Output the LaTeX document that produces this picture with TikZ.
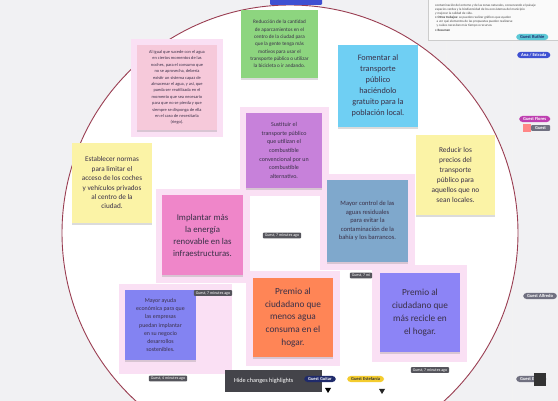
\documentclass[tikz,border=0pt]{standalone}
\usepackage{fontspec}
\setmainfont{Carlito}
\usetikzlibrary{shadows}
\definecolor{bgc}{HTML}{F1F1F3}
\definecolor{circ}{HTML}{9A3E52}
\definecolor{hlpink}{HTML}{FAE0F4}
\definecolor{cpink}{HTML}{F6C9DA}
\definecolor{cgreen}{HTML}{8DD57F}
\definecolor{cblue}{HTML}{6FCFF3}
\definecolor{cyellow}{HTML}{FBF3A6}
\definecolor{corchid}{HTML}{C781DA}
\definecolor{chot}{HTML}{EF86C9}
\definecolor{csteel}{HTML}{7FA8CC}
\definecolor{cviolet}{HTML}{8383F2}
\definecolor{corange}{HTML}{FF8556}
\definecolor{cperi}{HTML}{8C84F6}
\definecolor{notetext}{HTML}{3A3048}
\definecolor{tagbg}{HTML}{55555C}
\definecolor{barblue}{HTML}{3E50D2}
\definecolor{navy}{HTML}{1F2A6B}
\definecolor{pyellow}{HTML}{F4CC2E}
\definecolor{pcyan}{HTML}{5CC8D6}
\definecolor{pmag}{HTML}{BE3FB0}
\definecolor{pgrey}{HTML}{707080}
\begin{document}
\begin{tikzpicture}[x=1pt,y=-1pt,
  note/.style={rectangle, inner sep=2pt, align=center, text=notetext,
    drop shadow={opacity=0.28, shadow xshift=0pt, shadow yshift=-2.5pt}},
  hl/.style={fill=hlpink, draw=none},
  tag/.style={rounded corners=1pt, fill=tagbg, text=white, inner xsep=2pt, inner ysep=1.2pt, font=\fontsize{4}{4}\selectfont},
  pill/.style={rounded corners=3.5pt, text=white, inner ysep=1.5pt, inner xsep=4pt, font=\bfseries\fontsize{4.5}{5}\selectfont}]
\path[use as bounding box] (0,0) rectangle (558,401);
\fill[bgc] (0,0) rectangle (558,401);
\foreach \xx in {446,512} \draw[white!90!gray, line width=0.4pt] (\xx,40) -- (\xx,401);
% big circle
\draw[circ, fill=white, line width=0.9pt] (290,233) circle [radius=228pt];
% highlights
\fill[hl] (131,39) rectangle (223,137);
\fill[hl] (240,107) rectangle (329,196);
\fill[hl] (156,189) rectangle (250,283);
\fill[hl] (320,174) rectangle (415,270);
\fill[hl] (119,284) rectangle (232,374);
\fill[hl] (246,271) rectangle (340,366);
\fill[hl] (372,265) rectangle (467,362);
% top blue bar
\fill[barblue, rounded corners=1pt] (270,-3) rectangle (322,5);
% notes
\node[note, fill=cpink, minimum width=80pt, minimum height=85pt, font={\fontsize{4.4}{6.4}\selectfont}] (n1) at (177,87.5)
  {Al igual que sucede con el agua\\ en ciertos momentos de las\\ noches, para el consumo que\\ no se aprovecha, debería\\ existir un sistema capaz de\\ almacenar el agua, y así, que\\ pueda ser reutilizada en el\\ momento que sea necesario\\ para que no se pierda y que\\ siempre se disponga de ella\\ en el caso de necesitarla\\ (riego).};
\node[note, fill=cgreen, minimum width=77pt, minimum height=68pt, font={\fontsize{5.2}{7.3}\selectfont}] (n2) at (279.5,44)
  {Reducción de la cantidad\\ de aparcamientos en el\\ centro de la ciudad para\\ que la gente tenga más\\ motivos para usar el\\ transporte público o utilizar\\ la bicicleta o ir andando.};
\node[note, fill=cblue, minimum width=80pt, minimum height=82pt, font={\fontsize{8.3}{11}\selectfont}] (n3) at (378,86)
  {Fomentar al\\ transporte\\ público\\ haciéndolo\\ gratuito para la\\ población local.};
\node[note, fill=cyellow, minimum width=80pt, minimum height=80pt, font={\fontsize{7.2}{9.4}\selectfont}] (n4) at (112,183)
  {Establecer normas\\ para limitar el\\ acceso de los coches\\ y vehículos privados\\ al centro de la\\ ciudad.};
\node[note, fill=corchid, minimum width=76pt, minimum height=75pt, font={\fontsize{6}{8.6}\selectfont}] (n5) at (284,150.5)
  {Sustituir el\\ transporte público\\ que utilizan el\\ combustible\\ convencional por un\\ combustible\\ alternativo.};
\node[note, fill=cyellow, minimum width=79pt, minimum height=80pt, font={\fontsize{7.4}{10}\selectfont}] (n6) at (455.5,175)
  {Reducir los\\ precios del\\ transporte\\ público para\\ aquellos que no\\ sean locales.};
\node[note, fill=chot, minimum width=81pt, minimum height=80pt, font={\fontsize{8.8}{12}\selectfont}] (n7) at (202.5,235)
  {Implantar más\\ la energía\\ renovable en las\\ infraestructuras.};
\node[note, fill=csteel, minimum width=81pt, minimum height=82pt, font={\fontsize{6.5}{8.6}\selectfont}] (n8) at (367.5,221)
  {Mayor control de las\\ aguas residuales\\ para evitar la\\ contaminación de la\\ bahía y los barrancos.};
\node[note, fill=cviolet, minimum width=71pt, minimum height=70pt, font={\fontsize{5.9}{8.2}\selectfont}] (n9) at (160.5,325)
  {Mayor ayuda\\ económica para que\\ las empresas\\ puedan implantar\\ en su negocio\\ desarrollos\\ sostenibles.};
\node[note, fill=corange, minimum width=80pt, minimum height=79pt, font={\fontsize{9.3}{12.6}\selectfont}] (n10) at (293,317.5)
  {Premio al\\ ciudadano que\\ menos agua\\ consuma en el\\ hogar.};
\node[note, fill=cperi, minimum width=80pt, minimum height=79pt, font={\fontsize{9.3}{13}\selectfont}] (n11) at (420,312.5)
  {Premio al\\ ciudadano que\\ más recicle en\\ el hogar.};
% tags
\node[tag] (t1) at (282,235.5) {Guest, 7 minutes ago};
\node[tag] (t2) at (361,275.5) {Guest, 7 mi};
\node[tag] (t3) at (213,293) {Guest, 7 minutes ago};
\node[tag] (t4) at (168,378.5) {Guest, 4 minutes ago};
\node[tag] (t5) at (430,370) {Guest, 7 minutes ago};
% bottom toolbar
\node[fill=tagbg!80!black, text=white, minimum width=96pt, minimum height=22pt, font=\fontsize{6.2}{7}\selectfont, anchor=west, inner xsep=9pt] (bar) at (225,381) {Hide changes highlights\hspace*{20pt}};
\node[pill, fill=navy, anchor=west] (p1) at (304,379) {Guest Guitar};
\node[pill, fill=pyellow, text=black!80, anchor=west] (p2) at (347,379) {Guest Estefanía};
\fill[black] (325,388) -- (331,388) -- (328,393) -- cycle;
\fill[black!85] (379,389) -- (385,389) -- (382,394) -- cycle;
% right panel
\node[draw=gray!40, fill=white!96!gray, minimum width=132pt, minimum height=42pt, anchor=north west, inner sep=0pt] (panel) at (428,-2) {};
\node[anchor=north west, align=left, text=gray!55!black, font=\fontsize{3.3}{4.1}\selectfont, inner sep=0pt] (ptext) at (435,4)
  {contaminación del entorno y de las zonas naturales, conservando el paisaje\\
   espacios verdes y la biodiversidad de los ecosistemas del municipio\\
   y mejorar la calidad de vida.\\
   \textbullet\ \textbf{Otros trabajos:} se pueden realizar gráficos que ayuden\\
   \ \ a ver qué elementos de las propuestas pueden realizarse\\
   \ \ y cuáles necesitan más tiempo o recursos\\
   \textbullet\ \textbf{Resumen}};
\node[pill, fill=pcyan, text=navy, anchor=west] (g1) at (516,37) {Guest Ruthie};
\node[pill, fill=barblue, anchor=west] (g2) at (517,55) {Ana / Estrada};
\node[pill, fill=pmag, anchor=west] (g3) at (519,119) {Guest Flores};
\fill[pink!70!red] (523,124) rectangle (531,132);
\node[pill, fill=pgrey, anchor=west, rounded corners=1pt] (g3b) at (531,128) {Guest};
\node[pill, fill=pgrey, anchor=west] (g4) at (523,296) {Guest Alfredo};
\node[pill, fill=pgrey, anchor=west] (g5) at (516,379) {Guest Elena};
\fill[black!80] (534,373) rectangle (546,386);
\end{tikzpicture}
\end{document}
